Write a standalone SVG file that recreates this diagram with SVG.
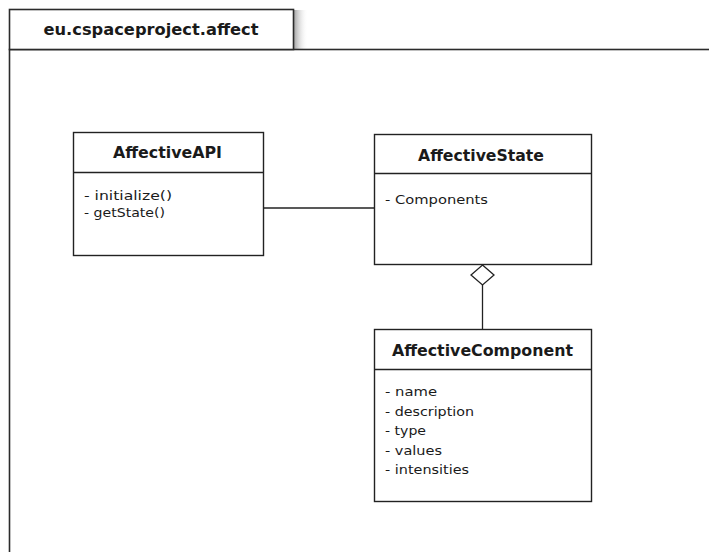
<svg xmlns="http://www.w3.org/2000/svg" width="709" height="552" viewBox="0 0 709 552">
  <defs>
    <linearGradient id="tabShadow" x1="0" y1="0" x2="1" y2="0">
      <stop offset="0" stop-color="#9a9a9a" stop-opacity="0.9"/>
      <stop offset="1" stop-color="#ffffff" stop-opacity="0"/>
    </linearGradient>
    <style>
      .frame { fill: #ffffff; stroke: #2b2b2b; stroke-width: 1.6; }
      .box { fill: #ffffff; stroke: #222222; stroke-width: 1.4; }
      .edge { fill: none; stroke: #222222; stroke-width: 1.3; }
      .title { font-family: "DejaVu Sans", Verdana, sans-serif; font-weight: bold; font-size: 16px; fill: #1a1a1a; text-anchor: middle; }
      .pkg { font-family: "DejaVu Sans", Verdana, sans-serif; font-weight: bold; font-size: 15px; fill: #1a1a1a; text-anchor: middle; }
      .attr { font-family: "DejaVu Sans", Verdana, sans-serif; font-size: 13px; fill: #1a1a1a; }
    </style>
  </defs>
  <rect width="709" height="552" fill="#ffffff"/>

  <!-- package frame -->
  <g id="package">
    <rect x="294" y="10" width="14" height="39" fill="url(#tabShadow)"/>
    <rect class="frame" x="9.5" y="49.5" width="720" height="520"/>
    <rect class="frame" x="9.5" y="9.5" width="284" height="40"/>
    <text class="pkg" x="151" y="35" textLength="215" lengthAdjust="spacingAndGlyphs">eu.cspaceproject.affect</text>
  </g>

  <!-- connectors -->
  <g id="connectors">
    <line class="edge" x1="264" y1="208" x2="374" y2="208"/>
    <line class="edge" x1="482.5" y1="285" x2="482.5" y2="329"/>
    <polygon class="edge" fill="#ffffff" points="482.5,265 494,275 482.5,285 471,275"/>
  </g>

  <g id="AffectiveAPI">
    <rect class="box" x="73.5" y="132.5" width="190" height="123"/>
    <line class="box" x1="73.5" y1="172.5" x2="263.5" y2="172.5"/>
    <text class="title" x="167.5" y="158" textLength="109" lengthAdjust="spacingAndGlyphs">AffectiveAPI</text>
    <text class="attr" x="84" y="200" textLength="88" lengthAdjust="spacingAndGlyphs">- initialize()</text>
    <text class="attr" x="84" y="217" textLength="81" lengthAdjust="spacingAndGlyphs">- getState()</text>
  </g>

  <g id="AffectiveState">
    <rect class="box" x="374.5" y="134.5" width="217" height="130"/>
    <line class="box" x1="374.5" y1="173.5" x2="591.5" y2="173.5"/>
    <text class="title" x="481" y="160.5" textLength="126" lengthAdjust="spacingAndGlyphs">AffectiveState</text>
    <text class="attr" x="385" y="203.5" textLength="103" lengthAdjust="spacingAndGlyphs">- Components</text>
  </g>

  <g id="AffectiveComponent">
    <rect class="box" x="374.5" y="329.5" width="217" height="172"/>
    <line class="box" x1="374.5" y1="369.5" x2="591.5" y2="369.5"/>
    <text class="title" x="482.5" y="356" textLength="181" lengthAdjust="spacingAndGlyphs">AffectiveComponent</text>
    <text class="attr" x="385" y="396" textLength="52" lengthAdjust="spacingAndGlyphs">- name</text>
    <text class="attr" x="385" y="415.5" textLength="89" lengthAdjust="spacingAndGlyphs">- description</text>
    <text class="attr" x="385" y="435" textLength="41" lengthAdjust="spacingAndGlyphs">- type</text>
    <text class="attr" x="385" y="454.5" textLength="57" lengthAdjust="spacingAndGlyphs">- values</text>
    <text class="attr" x="385" y="474" textLength="84" lengthAdjust="spacingAndGlyphs">- intensities</text>
  </g>
</svg>
